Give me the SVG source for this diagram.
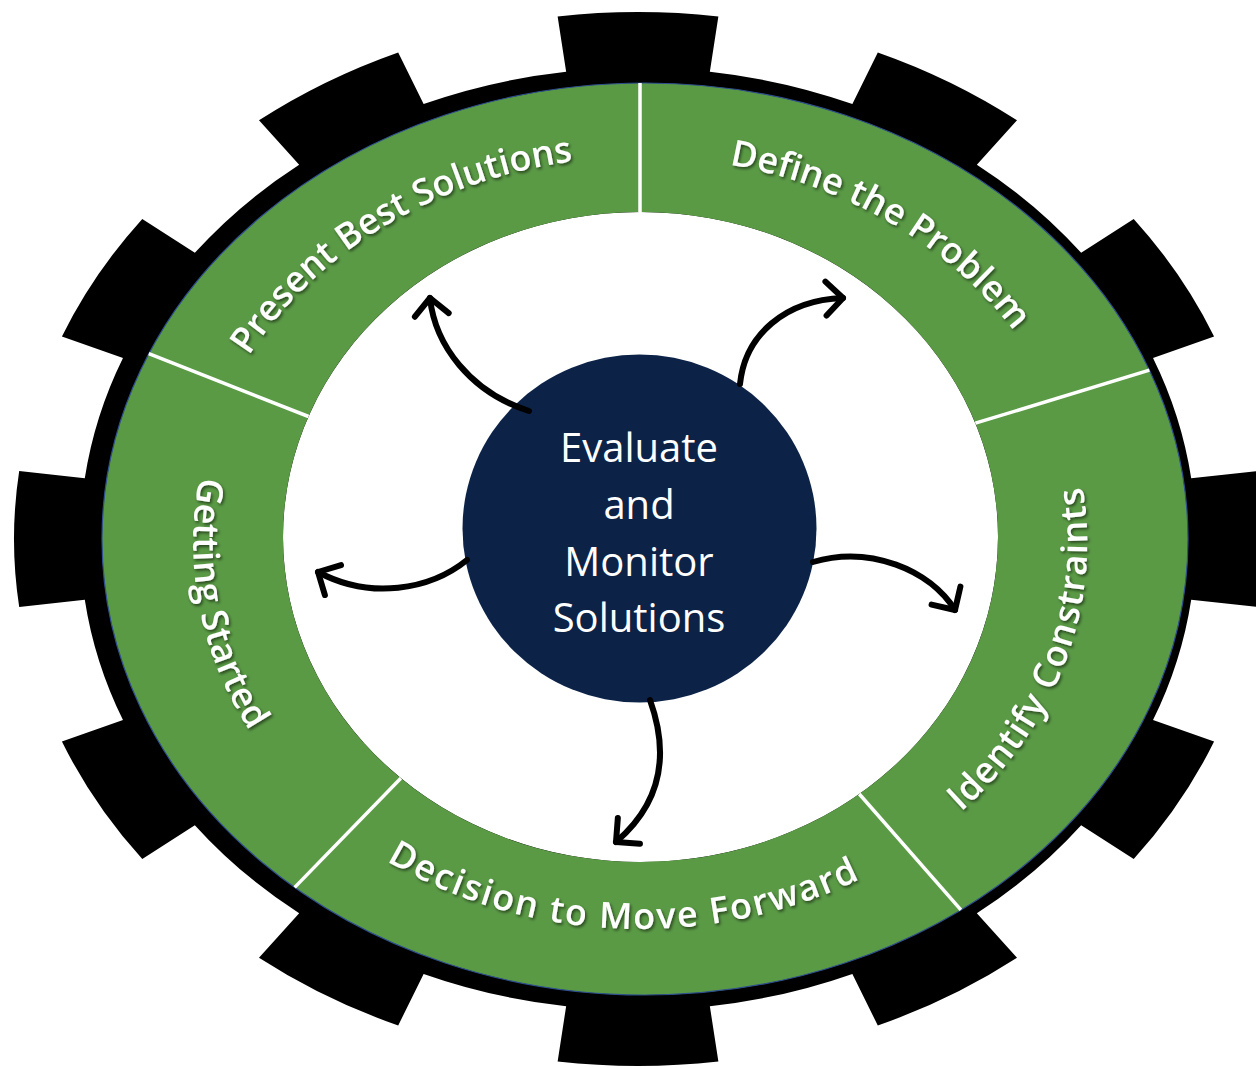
<svg xmlns="http://www.w3.org/2000/svg" width="1256" height="1068" viewBox="0 0 1256 1068">
<defs>
<style>
.seg{fill:#5A9A45}
.div{stroke:#fff;stroke-width:3.5;fill:none}
.lbl{font-family:"Open Sans","Noto Sans","Liberation Sans",sans-serif;font-weight:600;font-size:36px;fill:#fff;filter:url(#sh)}
.ctr{font-family:"Open Sans","Noto Sans","Liberation Sans",sans-serif;font-size:40px;fill:#fff;text-anchor:middle}
.arr{fill:none;stroke:#000;stroke-width:6;stroke-linecap:round;marker-end:url(#chev)}
</style>
<filter id="sh" x="-10%" y="-30%" width="120%" height="160%">
<feDropShadow dx="1.5" dy="2" stdDeviation="1.5" flood-color="#000" flood-opacity="0.55"/>
</filter>
<marker id="chev" markerUnits="userSpaceOnUse" markerWidth="50" markerHeight="50" viewBox="-25 -25 50 50" refX="0" refY="0" orient="auto" overflow="visible">
<path d="M-17,-17 L0,0 L-17,17" fill="none" stroke="#000" stroke-width="6" stroke-linecap="round" stroke-linejoin="round"/>
</marker>
<path id="pPresent" d="M265.1,753.2 A447,386 0 0 1 966.9,279.7"/>
<path id="pDefine" d="M310.4,282.2 A447,386 0 0 1 1017,750.4"/>
<path id="pIdentify" d="M554.7,921.9 A447,386 0 0 0 800.2,182.6"/>
<path id="pDecision" d="M193.4,558.5 A447,386 0 0 0 1083,594.7"/>
<path id="pGetting" d="M535.7,167.7 A447,386 0 0 0 667.3,928.3"/>
</defs>
<rect width="1256" height="1068" fill="#fff"/>
<g id="gear">
<path fill="#000" transform="translate(638,539) scale(624,527)" d="M0.88655,0.11515 L0.99167,0.12880 A1,1 0 0 0 0.99167,-0.12880 L0.88655,-0.11515 A0.894,0.894 0 0 0 0.82535,-0.34356 L0.92321,-0.38430 A1,1 0 0 0 0.79441,-0.60738 L0.71020,-0.54300 A0.894,0.894 0 0 0 0.54300,-0.71020 L0.60738,-0.79441 A1,1 0 0 0 0.38430,-0.92321 L0.34356,-0.82535 A0.894,0.894 0 0 0 0.11515,-0.88655 L0.12880,-0.99167 A1,1 0 0 0 -0.12880,-0.99167 L-0.11515,-0.88655 A0.894,0.894 0 0 0 -0.34356,-0.82535 L-0.38430,-0.92321 A1,1 0 0 0 -0.60738,-0.79441 L-0.54300,-0.71020 A0.894,0.894 0 0 0 -0.71020,-0.54300 L-0.79441,-0.60738 A1,1 0 0 0 -0.92321,-0.38430 L-0.82535,-0.34356 A0.894,0.894 0 0 0 -0.88655,-0.11515 L-0.99167,-0.12880 A1,1 0 0 0 -0.99167,0.12880 L-0.88655,0.11515 A0.894,0.894 0 0 0 -0.82535,0.34356 L-0.92321,0.38430 A1,1 0 0 0 -0.79441,0.60738 L-0.71020,0.54300 A0.894,0.894 0 0 0 -0.54300,0.71020 L-0.60738,0.79441 A1,1 0 0 0 -0.38430,0.92321 L-0.34356,0.82535 A0.894,0.894 0 0 0 -0.11515,0.88655 L-0.12880,0.99167 A1,1 0 0 0 0.12880,0.99167 L0.11515,0.88655 A0.894,0.894 0 0 0 0.34356,0.82535 L0.38430,0.92321 A1,1 0 0 0 0.60738,0.79441 L0.54300,0.71020 A0.894,0.894 0 0 0 0.71020,0.54300 L0.79441,0.60738 A1,1 0 0 0 0.92321,0.38430 L0.82535,0.34356 A0.894,0.894 0 0 0 0.88655,0.11515 Z"/>
<ellipse cx="640.5" cy="537" rx="357.5" ry="325" fill="#fff"/>
</g>
<g id="seg-present">
<path class="seg" d="M148.8,353.7 A543,456 0 0 1 640,83 L640,212 A357.5,325 0 0 0 308.5,416.5 Z"/>
<text class="lbl"><textPath href="#pPresent" startOffset="50%" text-anchor="middle">Present Best Solutions</textPath></text>
</g>
<g id="seg-define">
<path class="seg" d="M640,83 A543,456 0 0 1 1149.4,370.2 L975.4,423.2 A357.5,325 0 0 0 640,212 Z"/>
<text class="lbl"><textPath href="#pDefine" startOffset="50%" text-anchor="middle">Define the Problem</textPath></text>
</g>
<g id="seg-identify">
<path class="seg" d="M1149.4,370.2 A543,456 0 0 1 960.9,909.9 L859.3,794 A357.5,325 0 0 0 975.4,423.2 Z"/>
<text class="lbl" letter-spacing="1"><textPath href="#pIdentify" startOffset="50%" text-anchor="middle">Identify Constraints</textPath></text>
</g>
<g id="seg-decision">
<path class="seg" d="M960.9,909.9 A543,456 0 0 1 294.7,887.4 L400.8,778.2 A357.5,325 0 0 0 859.3,794 Z"/>
<text class="lbl" letter-spacing="1.8"><textPath href="#pDecision" startOffset="50%" text-anchor="middle">Decision to Move Forward</textPath></text>
</g>
<g id="seg-getting">
<path class="seg" d="M294.7,887.4 A543,456 0 0 1 148.8,353.7 L308.5,416.5 A357.5,325 0 0 0 400.8,778.2 Z"/>
<text class="lbl"><textPath href="#pGetting" startOffset="50%" text-anchor="middle">Getting Started</textPath></text>
</g>
<g id="ring-edge">
<ellipse cx="645" cy="539" rx="543" ry="456" fill="none" stroke="#2F4F8F" stroke-width="1.2"/>
<path class="div" d="M640,83 L640,212 M975.4,423.2 L1149.4,370.2 M859.3,794 L960.9,909.9 M400.8,778.2 L294.7,887.4 M308.5,416.5 L148.8,353.7"/>
</g>
<g id="center">
<ellipse cx="639.5" cy="528.5" rx="177" ry="174" fill="#0C2247"/>
<text class="ctr" x="639" y="462">Evaluate</text>
<text class="ctr" x="639" y="519">and</text>
<text class="ctr" x="639" y="576">Monitor</text>
<text class="ctr" x="639" y="632">Solutions</text>
</g>
<g id="connectors">
<path class="arr" d="M529,411 C470,392 435,345 430,298"/>
<path class="arr" d="M740,384 C745,335 785,300 843,298"/>
<path class="arr" d="M813,562 C870,545 930,570 955,610"/>
<path class="arr" d="M650,700 C668,750 665,800 616,842"/>
<path class="arr" d="M467,560 C430,590 370,600 318,572"/>
</g>
</svg>
